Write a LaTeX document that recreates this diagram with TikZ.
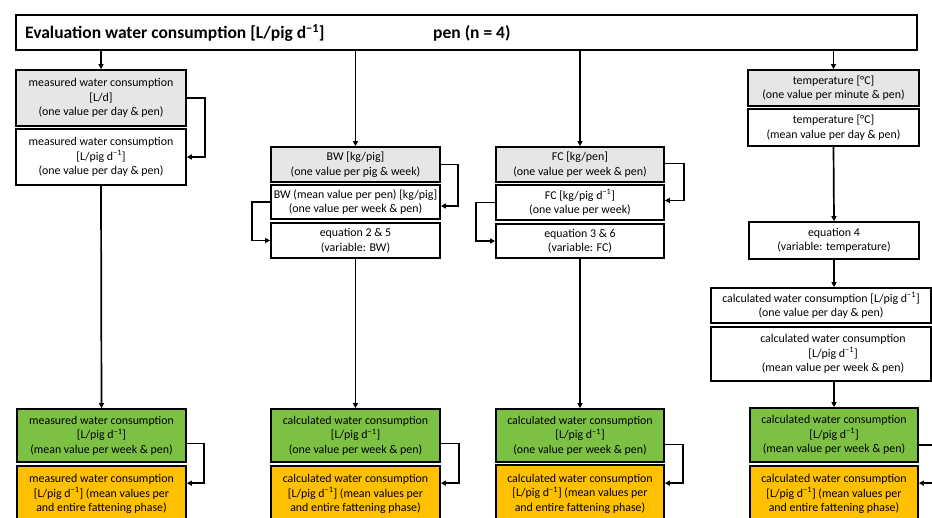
\documentclass[tikz,border=0pt]{standalone}
\usepackage{fontspec}
\setmainfont{Carlito}
\usetikzlibrary{arrows.meta,calc}
\definecolor{boxgray}{RGB}{231,230,230}
\definecolor{boxgreen}{RGB}{125,193,68}
\definecolor{boxorange}{RGB}{255,192,0}
\newcommand\dinv{d\textsuperscript{−1}}
\newcommand\bx[7]{\node[box,#6,minimum width={#3-#2},minimum height={#5-#4}] (#1) at ({(#2+#3)/2},{(#4+#5)/2}) {#7};}
\begin{document}
\begin{tikzpicture}[x=1pt,y=-1pt,
  box/.style={draw=black, line width=1.7pt, align=center, inner sep=0pt, font=\fontsize{11.9}{14.5}\selectfont},
  txt/.style={align=center, inner sep=0pt, font=\fontsize{11.9}{14.5}\selectfont},
  ttl/.style={inner sep=0pt, font=\fontsize{17.5}{20}\selectfont\bfseries},
  arr/.style={line width=1.7pt, -{Triangle[length=5pt,width=5pt]}}]
\useasboundingbox (0,0) rectangle (932,518);
% title
\bx{title}{16}{917}{15}{50}{fill=white}{}
\node[ttl, anchor=west] (t1) at (25,33) {Evaluation water consumption [L/pig \dinv]};
\node[ttl, anchor=west] (t2) at (433,33) {pen (n = 4)};
% column 1
\bx{A1}{16}{186}{70}{126}{fill=boxgray}{measured water consumption\\{}[L/d]\\(one value per day \& pen)}
\bx{A2}{16}{186}{129}{185}{fill=white}{measured water consumption\\{}[L/pig \dinv]\\(one value per day \& pen)}
\bx{A3}{17}{186}{409}{462}{fill=boxgreen}{measured water consumption\\{}[L/pig \dinv]\\(mean value per week \& pen)}
\bx{A4}{17}{186}{466}{522}{fill=boxorange}{measured water consumption\\{}[L/pig \dinv] (mean values per\\and entire fattening phase)}
% column 2
\bx{B1}{271}{440}{147}{182}{fill=boxgray}{BW [kg/pig]\\(one value per pig \& week)}
\bx{B2}{271}{440}{185}{219}{fill=white}{BW (mean value per pen) [kg/pig]\\(one value per week \& pen)}
\bx{B3}{271}{440}{223}{258}{fill=white}{equation 2 \& 5\\(variable: BW)}
\bx{B4}{271}{440}{409}{462}{fill=boxgreen}{calculated water consumption\\{}[L/pig \dinv]\\(one value per week \& pen)}
\bx{B5}{271}{440}{466}{522}{fill=boxorange}{calculated water consumption\\{}[L/pig \dinv] (mean values per\\and entire fattening phase)}
% column 3
\bx{C1}{496}{664}{147}{182}{fill=boxgray}{FC [kg/pen]\\(one value per week \& pen)}
\bx{C2}{496}{664}{185}{220}{fill=white}{FC [kg/pig \dinv]\\(one value per week)}
\bx{C3}{496}{664}{224}{258}{fill=white}{equation 3 \& 6\\(variable: FC)}
\bx{C4}{496}{664}{409}{462}{fill=boxgreen}{calculated water consumption\\{}[L/pig \dinv]\\(one value per week \& pen)}
\bx{C5}{496}{664}{465}{522}{fill=boxorange}{calculated water consumption\\{}[L/pig \dinv] (mean values per\\and entire fattening phase)}
% column 4
\bx{D1}{748}{919}{70}{106}{fill=boxgray}{temperature [°C]\\(one value per minute \& pen)}
\bx{D2}{748}{919}{109}{146}{fill=white}{temperature [°C]\\(mean value per day \& pen)}
\bx{D3}{749}{919}{222}{259}{fill=white}{equation 4\\(variable: temperature)}
\bx{D4}{711}{931}{288}{323}{fill=white}{calculated water consumption [L/pig \dinv]\\(one value per day \& pen)}
\bx{D5}{711}{931}{327}{381}{fill=white}{}
\node[txt] (D5t) at (833,354) {calculated water consumption\\{}[L/pig \dinv]\\(mean value per week \& pen)};
\bx{D6}{750}{918}{408}{462}{fill=boxgreen}{calculated water consumption\\{}[L/pig \dinv]\\(mean value per week \& pen)}
\bx{D7}{750}{918}{466}{522}{fill=boxorange}{calculated water consumption\\{}[L/pig \dinv] (mean values per\\and entire fattening phase)}
% connectors from title
\draw[arr] (A1.north |- title.south) -- (A1.north);
\draw[arr] (B1.north |- title.south) -- (B1.north);
\draw[arr] (C1.north |- title.south) -- (C1.north);
\draw[arr] (D1.north |- title.south) -- (D1.north);
% column 1
\draw[arr] (A1.east) -- ++(18,0) |- (A2.east);
\draw[arr] (A2.south) -- (A3.north);
\draw[arr] ($(A3.east)+(0,8)$) -- ++(17,0) |- ($(A4.north east)+(0,18)$);
% column 2
\draw[arr] (B1.east) -- ++(17,0) |- ($(B2.east)+(0,4)$);
\draw[arr] (B2.west) -- ++(-18,0) |- (B3.west);
\draw[arr] (B3.south) -- (B4.north);
\draw[arr] ($(B4.east)+(0,8)$) -- ++(18,0) |- ($(B5.north east)+(0,18)$);
% column 3
\draw[arr] ($(C1.east)+(0,-1)$) -- ++(19,0) |- ($(C2.east)+(0,-2)$);
\draw[arr] (C2.west) -- ++(-19,0) |- (C3.west);
\draw[arr] (C3.south) -- (C4.north);
\draw[arr] ($(C4.east)+(0,9)$) -- ++(18,0) |- ($(C5.north east)+(0,19)$);
% column 4
\draw[arr] (D2.south) -- (D3.north);
\draw[arr] (D3.south) -- (D3.south |- D4.north);
\draw[arr] (D6.north |- D5.south) -- (D6.north);
\draw[arr] ($(D6.east)+(0,10)$) -- ++(30,0) |- ($(D7.north east)+(0,18)$);
\end{tikzpicture}
\end{document}
